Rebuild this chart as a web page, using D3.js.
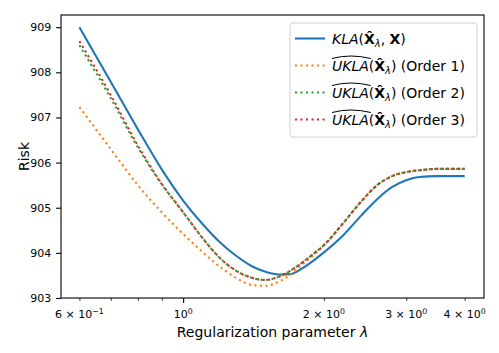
<!DOCTYPE html>
<html>
<head>
<meta charset="utf-8">
<script src="https://cdn.jsdelivr.net/npm/d3@7"></script>
<style>
  body { margin: 0; background: #fff; }
  svg { display: block; font-family: "DejaVu Sans", sans-serif; }
</style>
</head>
<body>
<svg width="499" height="353"></svg>
<script>
// values
var lambdas = [0.6, 0.7, 0.8, 0.9, 1.0, 1.1, 1.2, 1.3, 1.4, 1.5, 1.6, 1.7, 1.8, 1.9, 2.0, 2.2, 2.4, 2.6, 2.8, 3.0, 3.2, 3.5, 4.0];
var kla    = [909.00, 907.79, 906.74, 905.85, 905.16, 904.64, 904.23, 903.93, 903.71, 903.58, 903.52, 903.53, 903.66, 903.83, 904.01, 904.39, 904.82, 905.19, 905.46, 905.61, 905.68, 905.70, 905.70];
var order1 = [907.23, 906.30, 905.50, 904.90, 904.42, 904.02, 903.69, 903.44, 903.29, 903.27, 903.36, 903.52, 903.75, 903.95, 904.17, 904.66, 905.13, 905.50, 905.70, 905.79, 905.83, 905.86, 905.86];
var order2 = [908.60, 907.43, 906.34, 905.52, 904.90, 904.33, 903.88, 903.60, 903.45, 903.40, 903.47, 903.61, 903.79, 903.98, 904.17, 904.66, 905.13, 905.50, 905.70, 905.79, 905.83, 905.86, 905.86];
var order3 = [908.69, 907.50, 906.38, 905.53, 904.90, 904.33, 903.88, 903.60, 903.45, 903.40, 903.47, 903.61, 903.79, 903.98, 904.17, 904.66, 905.13, 905.50, 905.70, 905.79, 905.83, 905.86, 905.86];

var yTicks = [903, 904, 905, 906, 907, 908, 909];
var xMajor = [1];
var xMinor = [0.6, 0.7, 0.8, 0.9, 2, 3, 4];
// labelled x ticks: [value, mantissa, exponent]
var xLabels = [[0.6, "6", "\u22121"], [1, "", "0"], [2, "2", "0"], [3, "3", "0"], [4, "4", "0"]];

var series = [
  { name: "KLA", values: kla, color: "#1f77b4", dotted: false },
  { name: "Order 1", values: order1, color: "#ff7f0e", dotted: true },
  { name: "Order 2", values: order2, color: "#2ca02c", dotted: true },
  { name: "Order 3", values: order3, color: "#d62728", dotted: true }
];

var svg = d3.select("svg");

//plot area box (window.top is taken, so prefixed names)
var pLeft = 61, pRight = 484, pTop = 15, pBottom = 298;

var x = d3.scaleLog().domain([0.548, 4.40]).range([pLeft, pRight]);
var y = d3.scaleLinear().domain([903.0, 909.27]).range([pBottom, pTop]);

var line = d3.line()
  .x(function(d) { return x(d[0]); })
  .y(function(d) { return y(d[1]); })
  .curve(d3.curveMonotoneX);

svg.append("defs").append("clipPath").attr("id", "clip")
  .append("rect").attr("x", pLeft).attr("y", pTop).attr("width", pRight - pLeft).attr("height", pBottom - pTop);

var plot = svg.append("g").attr("clip-path", "url(#clip)");

series.forEach(function(s) {
  plot.append("path")
    .datum(lambdas.map(function(l, i) { return [l, s.values[i]]; }))
    .attr("d", line)
    .attr("fill", "none")
    .attr("stroke", s.color)
    .attr("stroke-width", 2.1)
    .attr("stroke-dasharray", s.dotted ? "2.1,3.4" : null);
});

//axes, ticks only for x, labels drawn by hand below
var yAxis = svg.append("g")
  .attr("transform", "translate(" + pLeft + ",0)")
  .call(d3.axisLeft(y).tickValues(yTicks).tickSize(4.9).tickPadding(4.9).tickFormat(d3.format("d")));
yAxis.select(".domain").remove();
yAxis.selectAll("line").attr("stroke", "#000").attr("stroke-width", 1.1);
yAxis.selectAll("text").attr("font-size", 11).attr("fill", "#000").attr("font-family", "DejaVu Sans");

var xMaj = svg.append("g")
  .attr("transform", "translate(0," + pBottom + ")")
  .call(d3.axisBottom(x).tickValues(xMajor).tickSize(4.9).tickFormat(""));
var xMin = svg.append("g")
  .attr("transform", "translate(0," + pBottom + ")")
  .call(d3.axisBottom(x).tickValues(xMinor).tickSize(2.8).tickFormat(""));
xMaj.select(".domain").remove();
xMin.select(".domain").remove();
xMaj.selectAll("line").attr("stroke", "#000").attr("stroke-width", 1.1);
xMin.selectAll("line").attr("stroke", "#000").attr("stroke-width", 0.8);

//math style tick labels like 6 x 10^-1
var xl = svg.append("g").attr("font-size", 11).attr("fill", "#000");
xLabels.forEach(function(t) {
  var txt = xl.append("text")
    .attr("x", x(t[0]))
    .attr("y", 318)
    .attr("text-anchor", "middle");
  txt.append("tspan").text((t[1] ? t[1] + " \u00d7 " : "") + "10");
  txt.append("tspan").attr("font-size", 7.8).attr("dy", -4.5).text(t[2]);
});

//frame
svg.append("rect")
  .attr("x", pLeft).attr("y", pTop)
  .attr("width", pRight - pLeft).attr("height", pBottom - pTop)
  .attr("fill", "none").attr("stroke", "#000").attr("stroke-width", 1.1);

//axis titles
svg.append("text")
  .attr("x", (pLeft + pRight) / 2).attr("y", 337)
  .attr("text-anchor", "middle").attr("font-size", 14)
  .text("Regularization parameter ")
  .append("tspan").attr("font-style", "italic").text("\u03bb");

svg.append("text")
  .attr("transform", "translate(29," + (pTop + pBottom) / 2 + ") rotate(-90)")
  .attr("text-anchor", "middle").attr("font-size", 14)
  .text("Risk");

//legend
var lg = svg.append("g");
lg.append("rect")
  .attr("x", 290).attr("y", 23).attr("width", 187).attr("height", 114).attr("rx", 3)
  .attr("fill", "#fff").attr("fill-opacity", 0.8)
  .attr("stroke", "#d0d0d0").attr("stroke-width", 1);

series.forEach(function(s, i) {
  var cy = 38.5 + i * 27;
  lg.append("line")
    .attr("x1", 295).attr("x2", 325).attr("y1", cy).attr("y2", cy)
    .attr("stroke", s.color).attr("stroke-width", 2.1)
    .attr("stroke-dasharray", s.dotted ? "2.1,3.4" : null);

  var t = lg.append("text").attr("x", 332).attr("y", cy + 5).attr("font-size", 14);
  var head = t.append("tspan").attr("font-style", "italic").text(i === 0 ? "KLA" : "UKLA");
  t.append("tspan").text("(");
  t.append("tspan").attr("font-weight", "bold").text("X\u0302");
  t.append("tspan").attr("font-style", "italic").attr("font-size", 9.8).attr("dy", 3).text("\u03bb");
  if (i === 0) {
    t.append("tspan").attr("dy", -3).text(", ");
    t.append("tspan").attr("font-weight", "bold").text("X");
    t.append("tspan").text(")");
  } else {
    t.append("tspan").attr("dy", -3).text(") (" + s.name + ")");
    //wide hat over UKLA
    var w = head.node().getComputedTextLength();
    var x0 = 332, hy = cy + 5 - 12;
    lg.append("path")
      .attr("d", "M" + x0 + "," + hy + " Q" + (x0 + w / 2) + "," + (hy - 5) + " " + (x0 + w + 2) + "," + hy)
      .attr("fill", "none").attr("stroke", "#000").attr("stroke-width", 1);
  }
});
</script>
</body>
</html>
